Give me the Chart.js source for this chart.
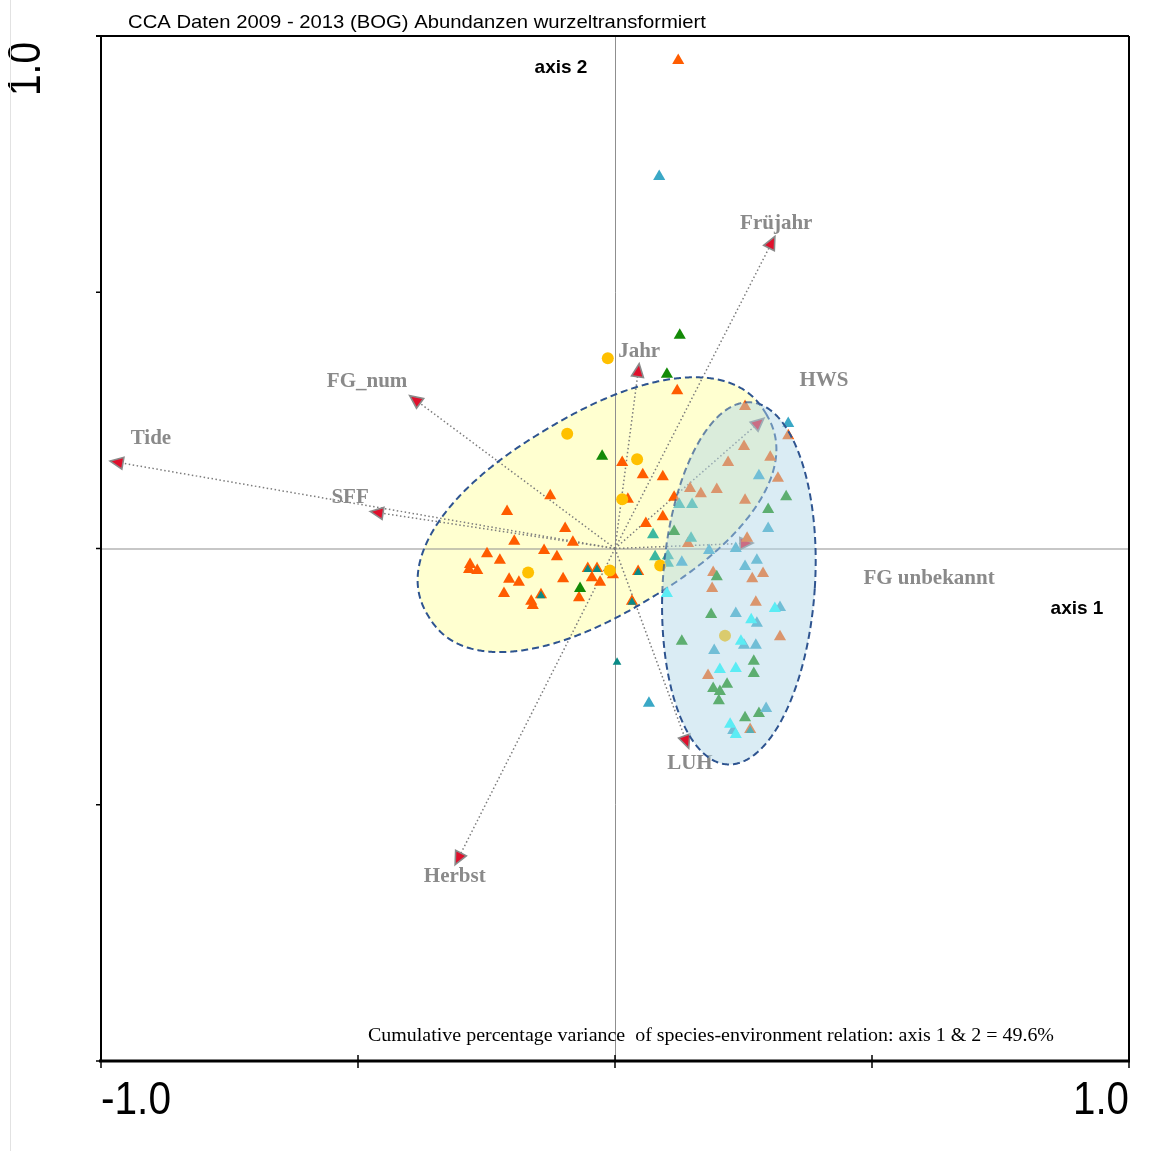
<!DOCTYPE html>
<html>
<head>
<meta charset="utf-8">
<title>CCA Daten 2009 - 2013 (BOG)</title>
<script src="https://cdn.jsdelivr.net/npm/chart.js@4.4.1/dist/chart.umd.min.js"></script>
<style>
  body { margin: 0; background: #fff; }
  #wrap { position: relative; width: 1170px; height: 1151px; }
  #frame { position: absolute; left: 10px; top: 0; width: 1px; height: 1151px; background: #e2e2e2; }
</style>
</head>
<body>
<div id="wrap">
  <canvas id="cca" width="1170" height="1151"></canvas>
  <div id="frame"></div>
</div>
<script>
// species scores (axis 1, axis 2), grouped by marker colour
const orangeSpecies = [
  [0.123, 0.952], [0.121, 0.308], [0.253, 0.277], [0.337, 0.220], [0.014, 0.168],
  [0.251, 0.199], [0.054, 0.144], [0.093, 0.140], [0.220, 0.168], [0.302, 0.178],
  [0.317, 0.137], [0.146, 0.117], [0.167, 0.107], [0.198, 0.115], [0.115, 0.100],
  [0.025, 0.096], [-0.126, 0.103], [-0.210, 0.072], [0.253, 0.094], [0.093, 0.062],
  [-0.097, 0.039], [0.060, 0.049], [-0.196, 0.014], [-0.082, 0.012], [0.257, 0.020],
  [0.142, 0.010], [-0.249, -0.010], [-0.224, -0.023], [-0.138, -0.004], [-0.113, -0.016],
  [-0.282, -0.031], [-0.268, -0.043], [-0.284, -0.041], [-0.053, -0.039], [-0.035, -0.039],
  [-0.004, -0.051], [0.045, -0.045], [-0.045, -0.057], [-0.029, -0.066], [-0.101, -0.059],
  [-0.206, -0.060], [-0.187, -0.066], [0.191, -0.047], [0.267, -0.059], [0.288, -0.049],
  [0.189, -0.078], [-0.216, -0.088], [-0.144, -0.090], [-0.070, -0.096], [-0.163, -0.103],
  [-0.160, -0.111], [0.033, -0.103], [0.274, -0.105], [0.321, -0.172], [0.181, -0.248],
  [0.263, -0.353]
];
const greenSpecies = [
  [0.126, 0.416], [0.101, 0.340], [-0.025, 0.180], [0.333, 0.101], [0.298, 0.076],
  [0.115, 0.033], [0.198, -0.055], [-0.068, -0.078], [0.187, -0.129], [0.130, -0.181],
  [0.270, -0.220], [0.270, -0.244], [0.218, -0.265], [0.191, -0.273], [0.204, -0.279],
  [0.202, -0.297], [0.280, -0.322], [0.253, -0.330]
];
const blueSpecies = [
  [0.086, 0.726], [0.337, 0.244], [0.280, 0.142], [0.298, 0.039], [0.183, -0.004],
  [0.235, 0.000], [0.130, -0.027], [0.253, -0.035], [0.276, -0.023], [0.235, -0.127],
  [0.321, -0.115], [0.276, -0.146], [0.251, -0.189], [0.274, -0.189], [0.193, -0.199],
  [0.294, -0.312], [0.230, -0.355], [0.066, -0.302]
];
const tealSpecies = [
  [0.125, 0.086], [0.150, 0.086], [0.074, 0.027], [0.148, 0.020], [0.078, -0.016],
  [0.103, -0.014], [0.103, -0.029]
];
const cyanSpecies = [
  [0.101, -0.088], [0.311, -0.117], [0.265, -0.139], [0.245, -0.181], [0.204, -0.236],
  [0.235, -0.234], [0.224, -0.343], [0.235, -0.363]
];
const smallTealSpecies = [
  [0.004, -0.222], [-0.053, -0.041], [-0.035, -0.041], [0.045, -0.047], [-0.144, -0.092],
  [0.033, -0.105], [0.263, -0.355]
];
const samples = [
  [-0.014, 0.371], [-0.093, 0.224], [0.043, 0.174], [0.014, 0.096], [-0.169, -0.047],
  [-0.010, -0.043], [0.088, -0.033], [0.214, -0.170]
];

// environmental variables (biplot arrows)
const envNames = ["Früjahr", "Jahr", "FG_num", "Tide", "SFF", "HWS", "FG unbekannt", "LUH", "Herbst"];
const envX = [0.304, 0.045, -0.387, -0.967, -0.461, 0.278, 0.253, 0.138, -0.304];
const envY = [0.595, 0.345, 0.289, 0.168, 0.070, 0.244, 0.010, -0.375, -0.603];

const axisTicks = [-1, -0.5, 0, 0.5, 1];

// label offsets from arrow tips, in pixels
const labelShift = [[5, -20], [1, -20], [-49, -19], [33, -24], [-28, -15], [66, -43], [184, 35], [4, 23], [-4, 19]];

// group envelopes (centre, half axes in axis units, rotation in degrees, shape exponent)
const yellowHull = { cx: -0.035, cy: 0.066, rx: 0.383, ry: 0.193, rot: -31, n: 2.25 };
const blueHull = { cx: 0.241, cy: -0.068, rx: 0.148, ry: 0.353, rot: 3.7, n: 2 };

const toPts = (arr) => arr.map(([x, y]) => ({ x: x, y: y }));

// outline points of an envelope in pixels
function hullPoints(chart, e) {
  const xs = chart.scales.x, ys = chart.scales.y;
  const unit = xs.getPixelForValue(1) - xs.getPixelForValue(0);
  const cx = xs.getPixelForValue(e.cx), cy = ys.getPixelForValue(e.cy);
  const a = e.rx * unit, b = e.ry * unit, r = e.rot * Math.PI / 180, p = 2 / e.n;
  const pts = [];
  for (let k = 0; k < 720; k++) {
    const t = k * Math.PI / 360;
    const c = Math.cos(t), s = Math.sin(t);
    const u = a * Math.sign(c) * Math.pow(Math.abs(c), p);
    const v = b * Math.sign(s) * Math.pow(Math.abs(s), p);
    pts.push([cx + u * Math.cos(r) - v * Math.sin(r), cy + u * Math.sin(r) + v * Math.cos(r)]);
  }
  return pts;
}

function tracePts(ctx, pts) {
  pts.forEach(([x, y], k) => (k === 0 ? ctx.moveTo(x, y) : ctx.lineTo(x, y)));
  ctx.closePath();
}

function hullPath(ctx, chart, e) {
  ctx.beginPath();
  tracePts(ctx, hullPoints(chart, e));
}

function arrowHead(ctx, x, y, ang) {
  ctx.save();
  ctx.translate(x, y);
  ctx.rotate(ang);
  ctx.beginPath();
  ctx.moveTo(8, 0);
  ctx.lineTo(-5, -6);
  ctx.lineTo(-5, 6);
  ctx.closePath();
  ctx.fillStyle = "#e0102c";
  ctx.fill();
  ctx.strokeStyle = "#8a8a8a";
  ctx.lineWidth = 1.6;
  ctx.stroke();
  ctx.restore();
}

function fitText(ctx, text, x, y, width) {
  const w = ctx.measureText(text).width;
  ctx.save();
  ctx.translate(x, y);
  ctx.scale(width / w, 1);
  ctx.fillText(text, 0, 0);
  ctx.restore();
}

function dashed(ctx, color) {
  ctx.strokeStyle = color;
  ctx.lineWidth = 2;
  ctx.setLineDash([7, 4]);
  ctx.stroke();
}

const ccaPlugin = {
  id: "ccaDecor",
  beforeDatasetsDraw(chart) {
    const ctx = chart.ctx, xs = chart.scales.x, ys = chart.scales.y;
    const a = chart.chartArea;
    const x0 = xs.getPixelForValue(0), y0 = ys.getPixelForValue(0);

    // yellow group envelope (underneath)
    ctx.save();
    hullPath(ctx, chart, yellowHull);
    ctx.fillStyle = "#ffffd0";
    ctx.fill();
    ctx.restore();

    // origin cross
    ctx.save();
    ctx.strokeStyle = "#8f8f8f";
    ctx.lineWidth = 1;
    ctx.beginPath();
    ctx.moveTo(a.left, y0 + 0.5); ctx.lineTo(a.right, y0 + 0.5);
    ctx.moveTo(x0 + 0.5, a.top); ctx.lineTo(x0 + 0.5, a.bottom);
    ctx.stroke();
    ctx.restore();

    // environmental arrows
    envNames.forEach((name, i) => {
      const ex = xs.getPixelForValue(envX[i]), ey = ys.getPixelForValue(envY[i]);
      const ang = Math.atan2(ey - y0, ex - x0);
      ctx.save();
      ctx.strokeStyle = "#7c7c7c";
      ctx.lineWidth = 1.5;
      ctx.setLineDash([1.5, 2.5]);
      ctx.beginPath();
      ctx.moveTo(x0, y0);
      ctx.lineTo(ex, ey);
      ctx.stroke();
      ctx.restore();
      arrowHead(ctx, ex, ey, ang);

      ctx.save();
      ctx.font = "bold 21px 'Liberation Serif', 'Times New Roman', serif";
      ctx.fillStyle = "#8a8a8a";
      ctx.textAlign = "center";
      ctx.textBaseline = "middle";
      ctx.fillText(name, ex + labelShift[i][0], ey + labelShift[i][1]);
      ctx.restore();
    });

    // yellow outline, later dimmed where the blue envelope covers it
    ctx.save();
    hullPath(ctx, chart, yellowHull);
    dashed(ctx, "#2e5490");
    ctx.restore();
  },
  afterDatasetsDraw(chart) {
    const ctx = chart.ctx, xs = chart.scales.x, ys = chart.scales.y;
    const a = chart.chartArea;

    // blue group envelope drawn over the points, semi transparent
    ctx.save();
    hullPath(ctx, chart, blueHull);
    ctx.fillStyle = "rgba(177, 215, 232, 0.47)";
    ctx.fill();
    ctx.restore();

    // blue outline: full colour outside the yellow envelope, lighter inside it
    ctx.save();
    ctx.beginPath();
    ctx.rect(0, 0, chart.width, chart.height);
    tracePts(ctx, hullPoints(chart, yellowHull));
    ctx.clip("evenodd");
    hullPath(ctx, chart, blueHull);
    dashed(ctx, "#2e5490");
    ctx.restore();

    ctx.save();
    hullPath(ctx, chart, yellowHull);
    ctx.clip();
    hullPath(ctx, chart, blueHull);
    dashed(ctx, "rgba(46, 84, 144, 0.7)");
    ctx.restore();

    // frame
    ctx.save();
    ctx.strokeStyle = "#000";
    ctx.lineWidth = 2;
    ctx.beginPath();
    ctx.moveTo(a.left - 5, a.top); ctx.lineTo(a.right, a.top);
    ctx.moveTo(a.left, a.top); ctx.lineTo(a.left, a.bottom);
    ctx.moveTo(a.right, a.top); ctx.lineTo(a.right, a.bottom);
    ctx.stroke();
    ctx.lineWidth = 3;
    ctx.beginPath();
    ctx.moveTo(a.left - 2, a.bottom); ctx.lineTo(a.right + 1, a.bottom);
    ctx.stroke();

    // ticks
    ctx.lineWidth = 1.5;
    ctx.beginPath();
    axisTicks.forEach((t) => {
      const px = xs.getPixelForValue(t);
      ctx.moveTo(px, a.bottom - 6); ctx.lineTo(px, a.bottom + 7);
      const py = ys.getPixelForValue(t);
      ctx.moveTo(a.left - 5, py); ctx.lineTo(a.left, py);
    });
    ctx.stroke();
    ctx.restore();

    // tick labels
    ctx.save();
    ctx.fillStyle = "#000";
    ctx.font = "46px 'Liberation Sans', Arial, sans-serif";
    ctx.textBaseline = "alphabetic";
    fitText(ctx, "-1.0", xs.getPixelForValue(-1), 1114, 70);
    const w1 = 56;
    fitText(ctx, "1.0", xs.getPixelForValue(1) - w1, 1114, w1);
    ctx.translate(40, ys.getPixelForValue(1) + 6);
    ctx.rotate(-Math.PI / 2);
    fitText(ctx, "1.0", -54, 0, 54);
    ctx.restore();

    // title and annotations
    ctx.save();
    ctx.fillStyle = "#000";
    ctx.font = "19px 'Liberation Sans', Arial, sans-serif";
    ctx.textBaseline = "alphabetic";
    fitText(ctx, "CCA Daten 2009 - 2013 (BOG) Abundanzen wurzeltransformiert", 128, 28, 578);
    ctx.font = "bold 19px 'Liberation Sans', Arial, sans-serif";
    ctx.textAlign = "center";
    ctx.textBaseline = "middle";
    ctx.fillText("axis 2", 561, 68);
    ctx.fillText("axis 1", 1077, 609);
    ctx.textAlign = "left";
    ctx.textBaseline = "alphabetic";
    ctx.font = "18px 'Liberation Serif', 'Times New Roman', serif";
    fitText(ctx, "Cumulative percentage variance  of species-environment relation: axis 1 & 2 = 49.6%", 368, 1041, 686);
    ctx.restore();
  }
};

new Chart(document.getElementById("cca"), {
  type: "scatter",
  data: {
    datasets: [
      { label: "small teal", data: toPts(smallTealSpecies), pointStyle: "triangle", pointRadius: 5, backgroundColor: "#0a8a86", borderWidth: 0 },
      { label: "samples", data: toPts(samples), pointStyle: "circle", pointRadius: 6, backgroundColor: "#ffc000", borderWidth: 0 },
      { label: "cyan", data: toPts(cyanSpecies), pointStyle: "triangle", pointRadius: 7, backgroundColor: "#10ffff", borderWidth: 0 },
      { label: "teal", data: toPts(tealSpecies), pointStyle: "triangle", pointRadius: 7, backgroundColor: "#3cb8a0", borderWidth: 0 },
      { label: "blue", data: toPts(blueSpecies), pointStyle: "triangle", pointRadius: 7, backgroundColor: "#3aa8c6", borderWidth: 0 },
      { label: "green", data: toPts(greenSpecies), pointStyle: "triangle", pointRadius: 7, backgroundColor: "#138a07", borderWidth: 0 },
      { label: "orange", data: toPts(orangeSpecies), pointStyle: "triangle", pointRadius: 7, backgroundColor: "#ff5c00", borderWidth: 0 }
    ]
  },
  options: {
    responsive: false,
    animation: false,
    events: [],
    layout: { padding: { left: 101, right: 41, top: 36, bottom: 90 } },
    plugins: { legend: { display: false }, tooltip: { enabled: false } },
    scales: {
      x: { type: "linear", min: -1, max: 1, display: false },
      y: { type: "linear", min: -1, max: 1, display: false }
    }
  },
  plugins: [ccaPlugin]
});
</script>
</body>
</html>
